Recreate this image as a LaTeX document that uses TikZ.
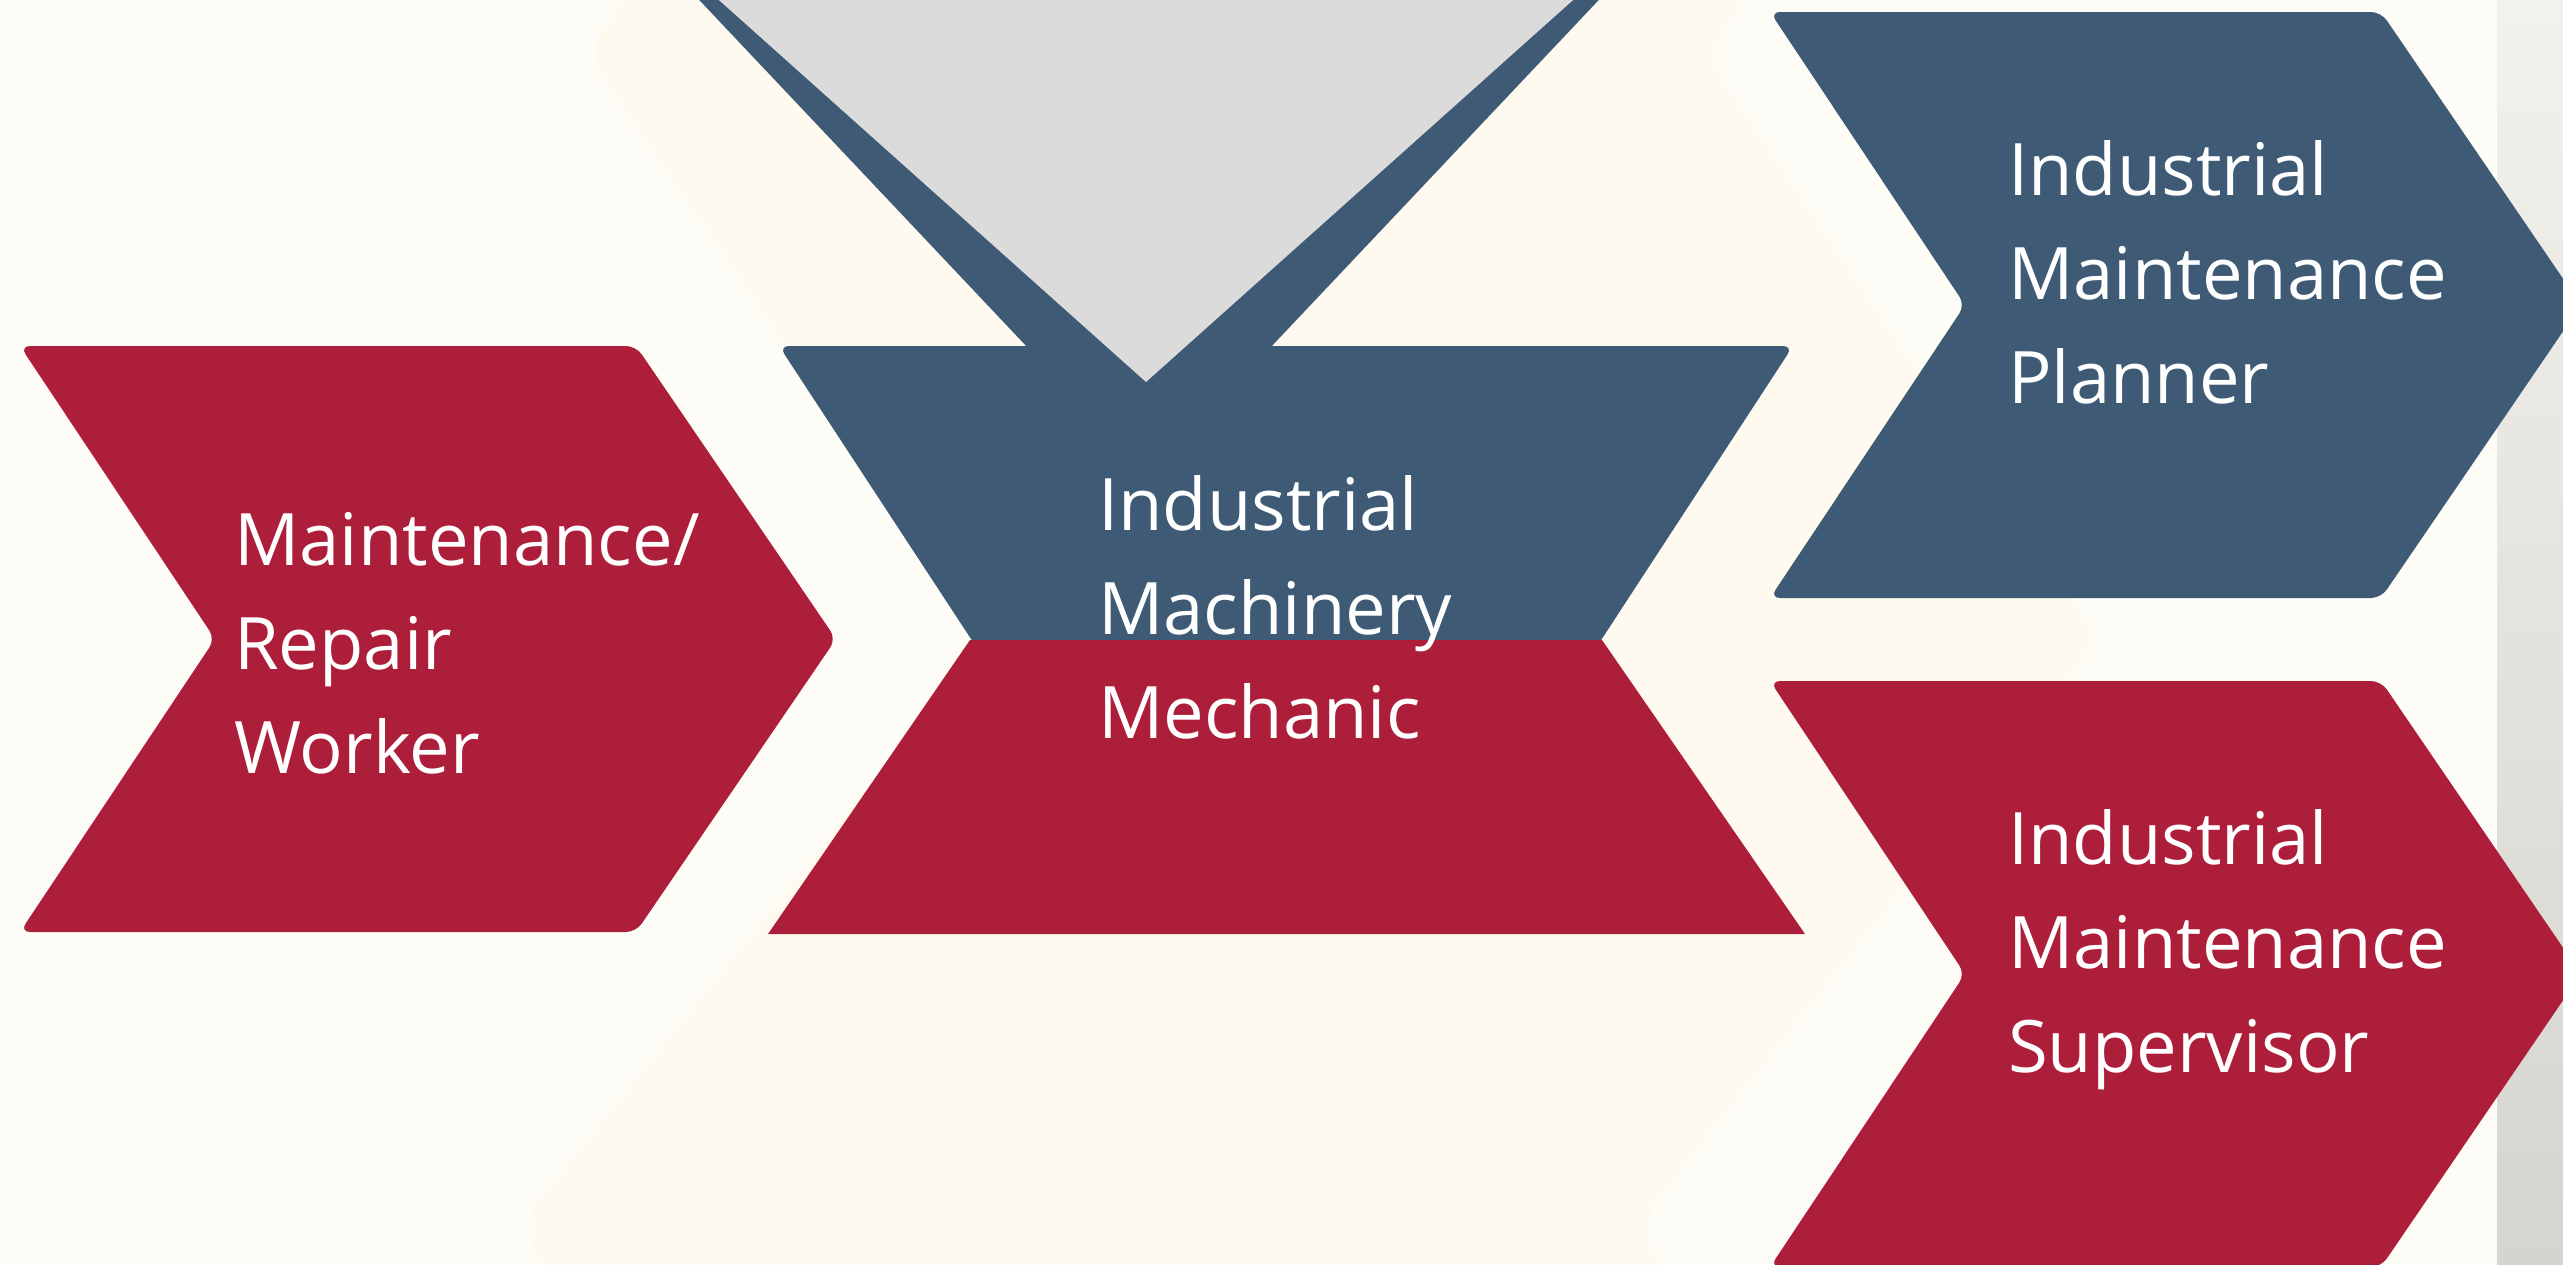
\documentclass[tikz,border=0pt]{standalone}
\usepackage{fontspec}
\setmainfont{Open Sans}
\definecolor{bgc}{HTML}{FEFCF6}
\definecolor{ghostc}{HTML}{FEFAF0}
\definecolor{cblue}{HTML}{3E5A75}
\definecolor{cred}{HTML}{AD1E3A}
\definecolor{cgray}{HTML}{DBDBDB}
\definecolor{stripTop}{HTML}{F3F1EC}
\definecolor{stripBot}{HTML}{D6D4CE}
\begin{document}
\begin{tikzpicture}[x=1pt,y=-1pt,
  lbl/.style={anchor=base west, inner sep=0pt, text=white,
    font=\fontsize{72.4}{104}\selectfont},
  chev/.style={rounded corners=10pt}]
\useasboundingbox (0,0) rectangle (2563,1264);
% background
\fill[bgc] (0,0) rectangle (2563,1264);
% faint zigzag ribbon behind the shapes
\fill[ghostc, rounded corners=30pt] (642,-40) -- (587,57) -- (985,640) -- (520,1222)
  -- (560,1300) -- (1680,1300) -- (1639,1225) -- (2100,640) -- (1708,57) -- (1770,-40) -- cycle;
% photo strip at the right
\shade[top color=stripTop, bottom color=stripBot] (2497,0) rectangle (2563,1264);
% funnel V at the top (outer blue wedge)
\fill[cblue] (652,-50) -- (1646,-50) -- (1149,476) -- cycle;
% middle shape: blue upper trapezoid, red lower trapezoid
\fill[cblue, chev] (1011,700) -- (779,346) -- (1793,346) -- (1562,700) -- cycle;
\fill[cred] (970,640) -- (1602,640) -- (1805,934) -- (768,934) -- cycle;
% gray inner triangle of the funnel, over the blue
\fill[cgray] (663,-50) -- (1629,-50) -- (1146,382) -- cycle;
% left chevron
\fill[cred, chev] (20,346) -- (636,346) -- (836,639) -- (636,932) -- (20,932) -- (215,639) -- cycle;
% right chevrons
\fill[cblue, chev] (1770,12) -- (2381,12) -- (2581,305) -- (2381,598) -- (1770,598) -- (1965,305) -- cycle;
\fill[cred, chev] (1770,681) -- (2381,681) -- (2581,974) -- (2381,1267) -- (1770,1267) -- (1965,974) -- cycle;
% labels
\node[lbl] (worker) at (234,565) {\vtop{\hbox{Maintenance/}\hbox{Repair}\hbox{Worker}}};
\node[lbl] (mechanic) at (1098,530) {\vtop{\hbox{Industrial}\hbox{Machinery}\hbox{Mechanic}}};
\node[lbl] (planner) at (2008,195) {\vtop{\hbox{Industrial}\hbox{Maintenance}\hbox{Planner}}};
\node[lbl] (supervisor) at (2008,864) {\vtop{\hbox{Industrial}\hbox{Maintenance}\hbox{Supervisor}}};
\end{tikzpicture}
\end{document}
